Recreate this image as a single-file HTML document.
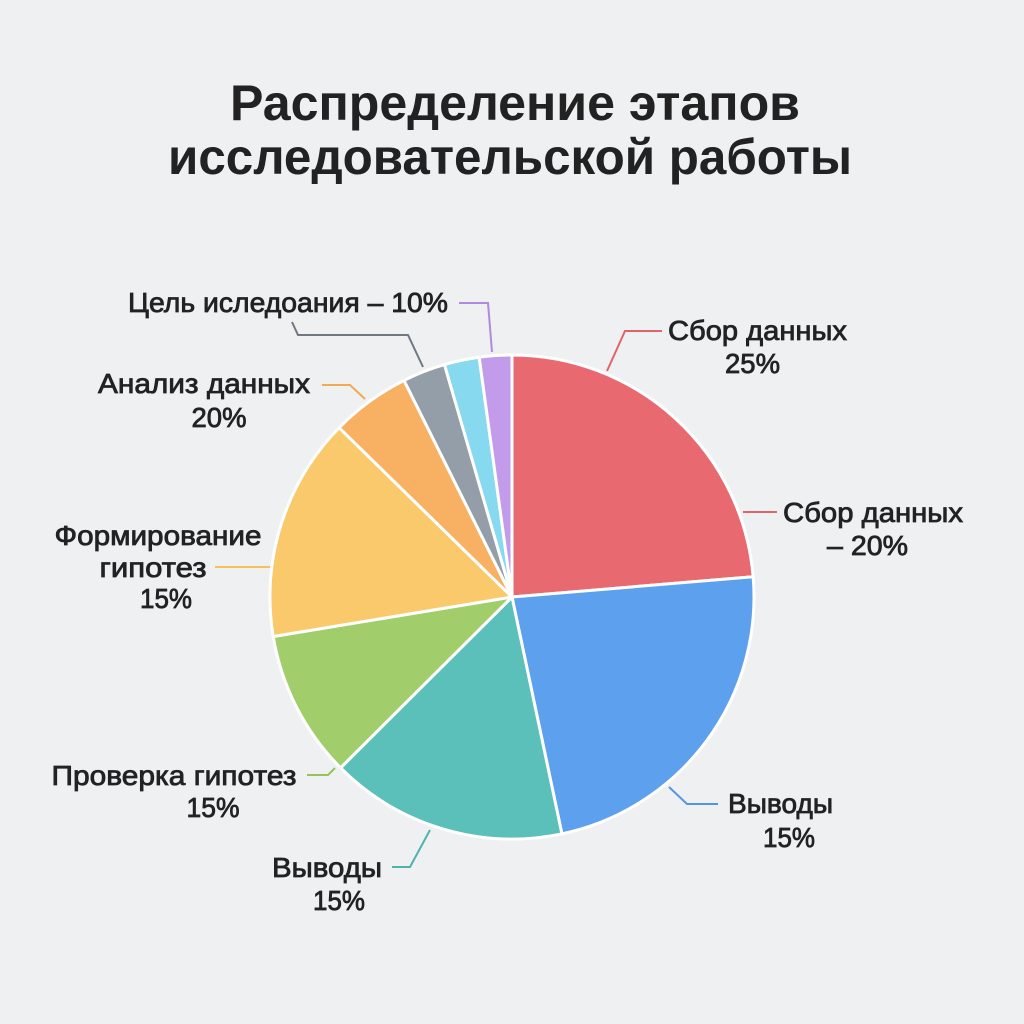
<!DOCTYPE html>
<html><head><meta charset="utf-8"><style>
html,body{margin:0;padding:0;background:#eff0f2;}
svg{display:block;}
text{font-family:"Liberation Sans","DejaVu Sans",sans-serif;fill:#222;}
.l{font-size:28px;stroke:#222;stroke-width:0.8px;}
.t{font-size:50px;font-weight:bold;}
</style></head><body>
<svg width="1024" height="1024" viewBox="0 0 1024 1024" xmlns="http://www.w3.org/2000/svg">
<rect width="1024" height="1024" fill="#eff0f2"/>
<text class="t" x="515" y="120" text-anchor="middle" textLength="570" lengthAdjust="spacingAndGlyphs">Распределение этапов</text>
<text class="t" x="510" y="174" text-anchor="middle" textLength="684" lengthAdjust="spacingAndGlyphs">исследовательской работы</text>

<g stroke="#fff" stroke-width="3" stroke-linejoin="round">
<path d="M512 597 L512 355 A242 242 0 0 1 753.15 576.75 Z" fill="#e8696f"/>
<path d="M512 597 L753.15 576.75 A242 242 0 0 1 561.9 833.8 Z" fill="#5da0ed"/>
<path d="M512 597 L561.9 833.8 A242 242 0 0 1 340.58 767.82 Z" fill="#5bbfba"/>
<path d="M512 597 L340.58 767.82 A242 242 0 0 1 273.25 636.53 Z" fill="#a2cd6b"/>
<path d="M512 597 L273.25 636.53 A242 242 0 0 1 339.1 427.68 Z" fill="#f9c96b"/>
<path d="M512 597 L339.1 427.68 A242 242 0 0 1 404.02 380.43 Z" fill="#f8b062"/>
<path d="M512 597 L404.02 380.43 A242 242 0 0 1 444.48 364.61 Z" fill="#939ea8"/>
<path d="M512 597 L444.48 364.61 A242 242 0 0 1 479.16 357.24 Z" fill="#86d9ef"/>
<path d="M512 597 L479.16 357.24 A242 242 0 0 1 512 355 Z" fill="#c29ceb"/>
</g>

<g fill="none" stroke-width="2">
<polyline points="607,371 625,331 662,331" stroke="#e0646a"/>
<polyline points="743,512 777,512" stroke="#e0646a"/>
<polyline points="669,787 687,804 718,804" stroke="#5596e0"/>
<polyline points="430,830 410,867 392,867" stroke="#4fb3ad"/>
<polyline points="335,768 328,775 307,775" stroke="#96c35c"/>
<polyline points="270,567 215,567" stroke="#f5c05a"/>
<polyline points="365,399 350,385 322,385" stroke="#f4a850"/>
<polyline points="423,367 408,335 298,335 292,322" stroke="#6f7880"/>
<polyline points="492,352 488,303 459,303" stroke="#b189e0"/>
</g>

<text class="l" x="757.5" y="340" text-anchor="middle" textLength="179" lengthAdjust="spacingAndGlyphs">Сбор данных</text>
<text class="l" x="752.5" y="373" text-anchor="middle" textLength="55" lengthAdjust="spacingAndGlyphs">25%</text>
<text class="l" x="873" y="522" text-anchor="middle" textLength="180" lengthAdjust="spacingAndGlyphs">Сбор данных</text>
<text class="l" x="867.5" y="555" text-anchor="middle" textLength="81" lengthAdjust="spacingAndGlyphs">– 20%</text>
<text class="l" x="780.5" y="813" text-anchor="middle" textLength="105" lengthAdjust="spacingAndGlyphs">Выводы</text>
<text class="l" x="789" y="847" text-anchor="middle" textLength="52" lengthAdjust="spacingAndGlyphs">15%</text>
<text class="l" x="327" y="877" text-anchor="middle" textLength="110" lengthAdjust="spacingAndGlyphs">Выводы</text>
<text class="l" x="339" y="910" text-anchor="middle" textLength="52" lengthAdjust="spacingAndGlyphs">15%</text>
<text class="l" x="174" y="785" text-anchor="middle" textLength="245" lengthAdjust="spacingAndGlyphs">Проверка гипотез</text>
<text class="l" x="213" y="817" text-anchor="middle" textLength="53" lengthAdjust="spacingAndGlyphs">15%</text>
<text class="l" x="158" y="545" text-anchor="middle" textLength="207" lengthAdjust="spacingAndGlyphs">Формирование</text>
<text class="l" x="153" y="577" text-anchor="middle" textLength="107" lengthAdjust="spacingAndGlyphs">гипотез</text>
<text class="l" x="166" y="608" text-anchor="middle" textLength="52" lengthAdjust="spacingAndGlyphs">15%</text>
<text class="l" x="204" y="393" text-anchor="middle" textLength="212" lengthAdjust="spacingAndGlyphs">Анализ данных</text>
<text class="l" x="219" y="427" text-anchor="middle" textLength="55" lengthAdjust="spacingAndGlyphs">20%</text>
<text class="l" x="128" y="312" textLength="320" lengthAdjust="spacingAndGlyphs">Цель иследоания – 10%</text>
</svg>
</body></html>
